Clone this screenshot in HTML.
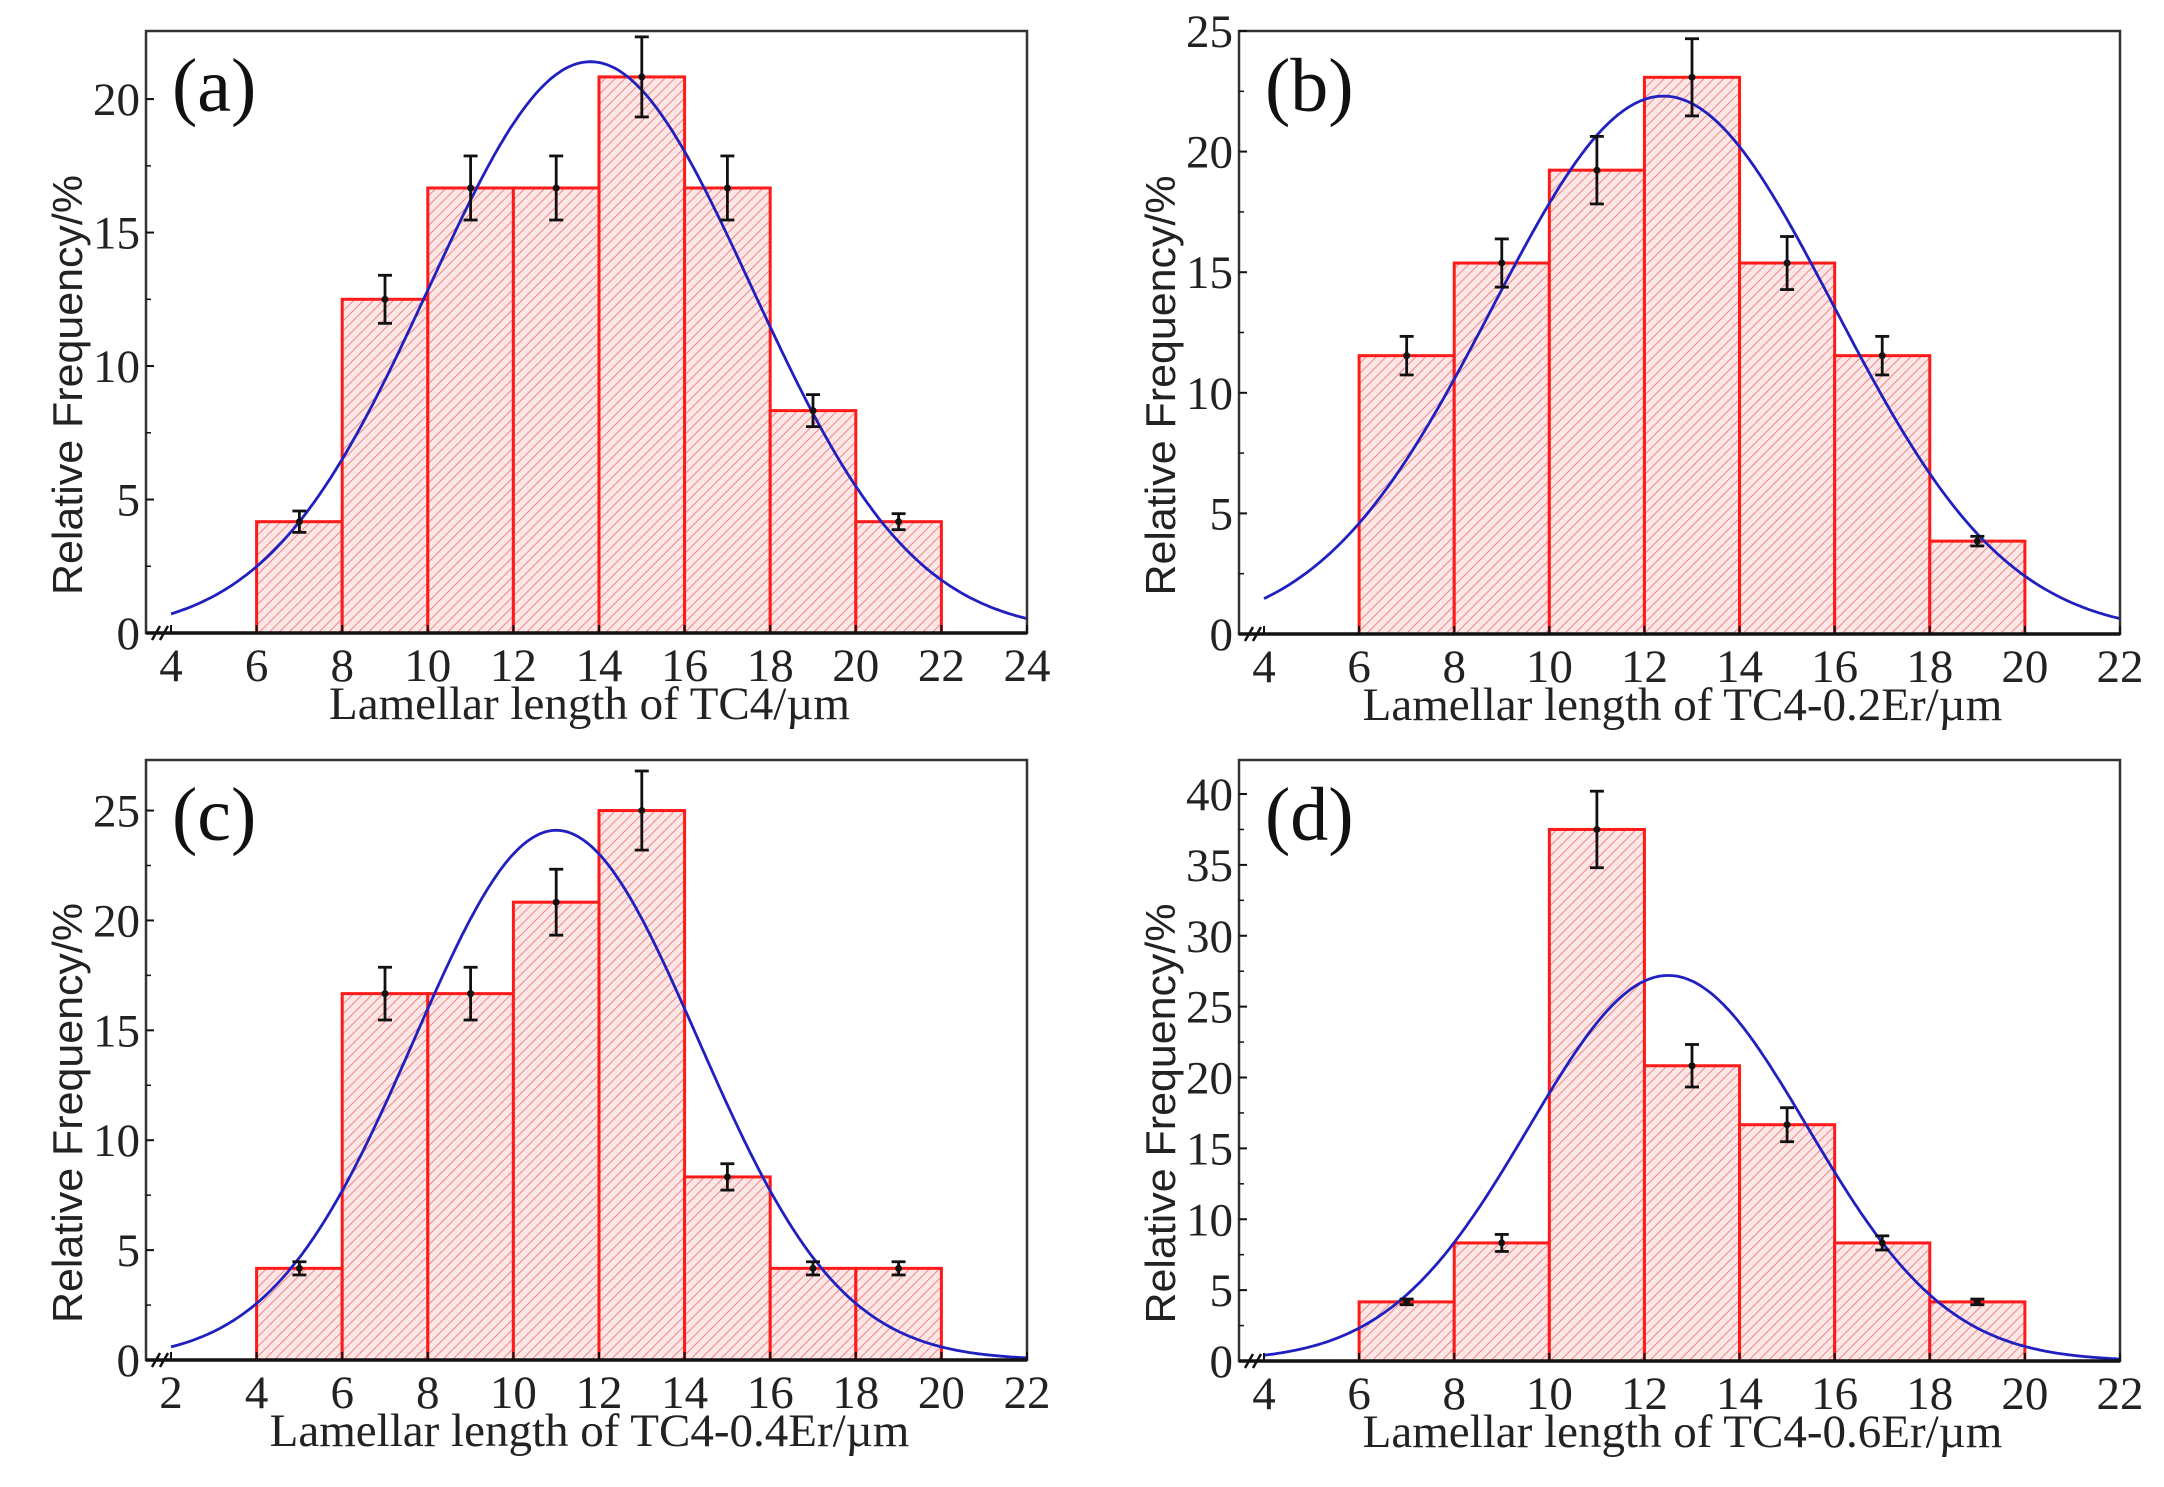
<!DOCTYPE html>
<html><head><meta charset="utf-8"><style>
html,body{margin:0;padding:0;background:#fff;}
svg{display:block;}
</style></head><body>
<svg id="fig" width="2164" height="1487" viewBox="0 0 2164 1487" xmlns="http://www.w3.org/2000/svg">
<defs>
<pattern id="hatch" patternUnits="userSpaceOnUse" width="7" height="7" patternTransform="rotate(45)">
<rect width="7" height="7" fill="#fde6e6"/>
<line x1="0" y1="0" x2="0" y2="7" stroke="#ee7a7a" stroke-width="1.8"/>
</pattern>
</defs>
</svg>
<script>
// ---- data ----
const panelLabels = ["(a)", "(b)", "(c)", "(d)"];
const xTitles = ["Lamellar length of TC4/\u00b5m", "Lamellar length of TC4-0.2Er/\u00b5m", "Lamellar length of TC4-0.4Er/\u00b5m", "Lamellar length of TC4-0.6Er/\u00b5m"];
const binStartsA = [6, 8, 10, 12, 14, 16, 18, 20];
const freqA = [4.17, 12.5, 16.67, 16.67, 20.83, 16.67, 8.33, 4.17];
const errA = [0.4, 0.9, 1.2, 1.2, 1.5, 1.2, 0.6, 0.3];
const binStartsB = [6, 8, 10, 12, 14, 16, 18];
const freqB = [11.54, 15.38, 19.23, 23.08, 15.38, 11.54, 3.85];
const errB = [0.8, 1.0, 1.4, 1.6, 1.1, 0.8, 0.2];
const binStartsC = [4, 6, 8, 10, 12, 14, 16, 18];
const freqC = [4.17, 16.67, 16.67, 20.83, 25, 8.33, 4.17, 4.17];
const errC = [0.3, 1.2, 1.2, 1.5, 1.8, 0.6, 0.3, 0.3];
const binStartsD = [6, 8, 10, 12, 14, 16, 18];
const freqD = [4.17, 8.33, 37.5, 20.83, 16.67, 8.33, 4.17];
const errD = [0.2, 0.6, 2.7, 1.5, 1.2, 0.5, 0.2];
// gaussian fit params [peak, mean, sigma]
const fitA = [21.4, 13.8, 3.76];
const fitB = [22.3, 12.4, 3.6];
const fitC = [24.1, 11.0, 3.31];
const fitD = [27.2, 12.5, 2.93];
const xTicksA = [4, 6, 8, 10, 12, 14, 16, 18, 20, 22, 24];
const xTicksB = [4, 6, 8, 10, 12, 14, 16, 18, 20, 22];
const xTicksC = [2, 4, 6, 8, 10, 12, 14, 16, 18, 20, 22];
const xTicksD = [4, 6, 8, 10, 12, 14, 16, 18, 20, 22];
const yTicksA = [0, 5, 10, 15, 20];
const yTicksB = [0, 5, 10, 15, 20, 25];
const yTicksC = [0, 5, 10, 15, 20, 25];
const yTicksD = [0, 5, 10, 15, 20, 25, 30, 35, 40];

const NS = "http://www.w3.org/2000/svg";
const svg = document.getElementById("fig");
function mk(tag, attrs, parent) {
  const e = document.createElementNS(NS, tag);
  for (const k in attrs) e.setAttribute(k, attrs[k]);
  (parent || svg).appendChild(e);
  return e;
}

const panels = [
  {L:146, R:1027, T:31, B:633, x0:4, x1:24, y1:22.55, bins:binStartsA, f:freqA, e:errA, fit:fitA, xt:xTicksA, yt:yTicksA},
  {L:1239, R:2120, T:31, B:634, x0:4, x1:22, y1:25.0, bins:binStartsB, f:freqB, e:errB, fit:fitB, xt:xTicksB, yt:yTicksB},
  {L:146, R:1027, T:760, B:1360, x0:2, x1:22, y1:27.3, bins:binStartsC, f:freqC, e:errC, fit:fitC, xt:xTicksC, yt:yTicksC},
  {L:1239, R:2120, T:760, B:1361, x0:4, x1:22, y1:42.4, bins:binStartsD, f:freqD, e:errD, fit:fitD, xt:xTicksD, yt:yTicksD}
];

panels.forEach((p, i) => {
  const g = mk("g", {});
  
  
  const off = 25;
  const xs = v => (p.L + off) + (v - p.x0) / (p.x1 - p.x0) * (p.R - p.L - off);
  const ys = v => p.B - v / p.y1 * (p.B - p.T);
  p.bins.forEach((b, j) => {
    const r = mk("rect", {x: xs(b), y: ys(p.f[j]), width: xs(b + 2) - xs(b), height: p.B - ys(p.f[j]),
      fill: "url(#hatch)", stroke: "#ff1a1a", "stroke-width": 3}, g);
    
    
  });
  let d = "";
  for (let k = 0; k <= 300; k++) {
    const xv = p.x0 + (p.x1 - p.x0) * k / 300;
    const yv = p.fit[0] * Math.exp(-Math.pow(xv - p.fit[1], 2) / (2 * p.fit[2] * p.fit[2]));
    d += (k ? "L" : "M") + xs(xv).toFixed(1) + "," + ys(yv).toFixed(1);
  }
  const c = mk("path", {d: d, fill: "none", stroke: "#2020c0", "stroke-width": 2.8}, g);
  
  
  p.bins.forEach((b, j) => {
    const cx = xs(b + 1), top = ys(p.f[j] + p.e[j]), bot = ys(p.f[j] - p.e[j]);
    const eg = mk("g", {stroke: "#111", "stroke-width": 2.8}, g);
    
    
    mk("line", {x1: cx, y1: top, x2: cx, y2: bot}, eg);
    mk("line", {x1: cx - 7, y1: top, x2: cx + 7, y2: top}, eg);
    mk("line", {x1: cx - 7, y1: bot, x2: cx + 7, y2: bot}, eg);
    mk("circle", {cx: cx, cy: ys(p.f[j]), r: 3.5, fill: "#111", stroke: "none"}, eg);
  });
  const fr = mk("rect", {x: p.L, y: p.T, width: p.R - p.L, height: p.B - p.T, fill: "none", stroke: "#333", "stroke-width": 2.5}, g);
  
  
  mk("line", {x1: p.L, y1: p.B, x2: p.R, y2: p.B, stroke: "#111", "stroke-width": 3.5}, g);
  const br = mk("path", {d: `M${p.L+6},${p.B+7} L${p.L+14},${p.B-7} M${p.L+14},${p.B+7} L${p.L+22},${p.B-7}`, stroke: "#111", "stroke-width": 2.5, fill: "none"}, g);
  
  
  p.xt.forEach(t => {
    mk("line", {x1: xs(t), y1: p.B, x2: xs(t), y2: p.B - 8, stroke: "#111", "stroke-width": 2}, g);
    const tx = mk("text", {x: xs(t), y: p.B + 48, "text-anchor": "middle", "font-family": "Liberation Serif, serif", "font-size": 47, fill: "#222"}, g);
    tx.textContent = t;
    
    
  });
  p.yt.forEach(t => {
    mk("line", {x1: p.L, y1: ys(t), x2: p.L + 8, y2: ys(t), stroke: "#111", "stroke-width": 2}, g);
    if (ys(t + 2.5) > p.T + 4) mk("line", {x1: p.L, y1: ys(t + 2.5), x2: p.L + 5, y2: ys(t + 2.5), stroke: "#111", "stroke-width": 1.5}, g);
    const ty = mk("text", {x: p.L - 6, y: ys(t) + 16, "text-anchor": "end", "font-family": "Liberation Serif, serif", "font-size": 47, fill: "#222"}, g);
    ty.textContent = t;
    
    
  });
  const xtEl = mk("text", {x: (p.L + p.R) / 2 + 3, y: p.B + 86, "text-anchor": "middle", "font-family": "Liberation Serif, serif", "font-size": 47, fill: "#222"}, g);
  xtEl.textContent = xTitles[i];
  
  
  const cy = (p.T + p.B) / 2 + 53;
  const ytEl = mk("text", {x: 0, y: 0, transform: `translate(${p.L - 64},${cy}) rotate(-90)`, "text-anchor": "middle", "font-family": "Liberation Sans, sans-serif", "font-size": 42, fill: "#222", textLength: 420, lengthAdjust: "spacingAndGlyphs"}, g);
  ytEl.textContent = "Relative Frequency/%";
  
  
  const lb = mk("text", {x: p.L + 26, y: p.T + 80, "font-family": "Liberation Serif, serif", "font-size": 76, fill: "#111"}, g);
  lb.textContent = panelLabels[i];
  
  
});
</script>
</body></html>
